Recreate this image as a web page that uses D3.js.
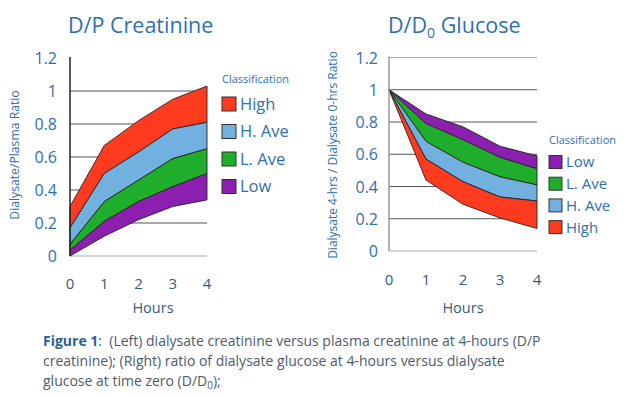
<!DOCTYPE html>
<html>
<head>
<meta charset="utf-8">
<script src="https://cdn.jsdelivr.net/npm/d3@7"></script>
<style>
  body { margin: 0; background: #fff; }
  svg { display: block; font-family: "Open Sans", sans-serif; }
</style>
</head>
<body>
<svg id="chart" width="627" height="398"></svg>
<script>
// hours on the x axis
var hours = [0, 1, 2, 3, 4];
var yTicks = [0, 0.2, 0.4, 0.6, 0.8, 1, 1.2];

// D/P creatinine, band edges top to bottom
var creatHighTop  = [0.30, 0.67, 0.82, 0.95, 1.03];
var creatHAveTop  = [0.17, 0.50, 0.63, 0.77, 0.81];
var creatLAveTop  = [0.07, 0.33, 0.46, 0.59, 0.65];
var creatLowTop   = [0.035, 0.21, 0.33, 0.42, 0.50];
var creatLowBot   = [0, 0.12, 0.22, 0.30, 0.34];

// D/D0 glucose, band edges top to bottom
var glucLowTop    = [1, 0.85, 0.77, 0.65, 0.59];
var glucLAveTop   = [1, 0.79, 0.69, 0.58, 0.51];
var glucHAveTop   = [1, 0.68, 0.55, 0.46, 0.41];
var glucHighTop   = [1, 0.57, 0.43, 0.335, 0.31];
var glucHighBot   = [1, 0.44, 0.29, 0.205, 0.14];

var colors = {
  "High": "#ff3b1f",
  "H. Ave": "#72b0e0",
  "L. Ave": "#1fae2b",
  "Low": "#8c1fb0"
};

var svg = d3.select("#chart");
var blue = "#2e6fb0";

function drawPanel(p) {
  var x = d3.scaleLinear().domain([0, 4]).range(p.xRange);
  var y = d3.scaleLinear().domain([0, 1.2]).range(p.yRange);
  var g = svg.append("g");

  // gridlines
  var gridVals = p.topGrid ? yTicks : yTicks.slice(0, -1);
  g.selectAll("line.grid").data(gridVals).enter().append("line")
    .attr("x1", x(0)).attr("x2", x(4))
    .attr("y1", function(d) { return y(d); })
    .attr("y2", function(d) { return y(d); })
    .attr("stroke", function(d) { return (d == 0 || d == 1.2) ? "#aaa" : "#555"; })
    .attr("stroke-width", 1.2);

  // bands
  var area = d3.area()
    .x(function(d) { return x(d.h); })
    .y0(function(d) { return y(d.lo); })
    .y1(function(d) { return y(d.hi); });

  p.bands.forEach(function(b) {
    var pts = hours.map(function(h, i) { return { h: h, lo: b.lo[i], hi: b.hi[i] }; });
    g.append("path").datum(pts)
      .attr("d", area)
      .attr("fill", colors[b.name])
      .attr("stroke", "#222")
      .attr("stroke-width", 0.9)
      .attr("stroke-linejoin", "round");
  });

  // y axis line
  g.append("line")
    .attr("x1", x(0)).attr("x2", x(0))
    .attr("y1", y(1.2) - 1).attr("y2", y(0))
    .attr("stroke", p.axisColor).attr("stroke-width", 1.5);

  // y tick labels
  g.selectAll("text.ytick").data(yTicks).enter().append("text")
    .attr("x", p.yLabelX)
    .attr("y", function(d) { return y(d) + 6; })
    .attr("text-anchor", "end")
    .attr("font-size", 16)
    .attr("fill", blue)
    .text(function(d) { return d; });

  // x tick labels
  g.selectAll("text.xtick").data(hours).enter().append("text")
    .attr("x", function(d) { return x(d); })
    .attr("y", p.xLabelY)
    .attr("text-anchor", "middle")
    .attr("font-size", 15)
    .attr("fill", "#345a80")
    .text(function(d) { return d; });

  g.append("text")
    .attr("x", p.hoursX).attr("y", 313)
    .attr("text-anchor", "middle")
    .attr("font-size", 14.5)
    .attr("fill", "#345a80")
    .text("Hours");

  // y title
  g.append("text")
    .attr("transform", "translate(" + p.yTitle.x + "," + p.yTitle.y + ") rotate(-90)")
    .attr("text-anchor", "middle")
    .attr("font-size", p.yTitle.size)
    .attr("fill", blue)
    .text(p.yTitle.text);

  // legend
  var lg = g.append("g");
  lg.append("text")
    .attr("x", p.legend.x).attr("y", p.legend.y)
    .attr("font-size", 11)
    .attr("fill", blue)
    .text("Classification");
  var items = lg.selectAll("g.item").data(p.legend.order).enter().append("g")
    .attr("transform", function(d, i) {
      return "translate(" + p.legend.x + "," + (p.legend.y0 + i * p.legend.step) + ")";
    });
  items.append("rect")
    .attr("x", 0).attr("y", -p.legend.box / 2)
    .attr("width", p.legend.box).attr("height", p.legend.box)
    .attr("fill", function(d) { return colors[d]; })
    .attr("stroke", "#333").attr("stroke-width", 1);
  items.append("text")
    .attr("x", p.legend.box + 4)
    .attr("y", p.legend.font * 0.36)
    .attr("font-size", p.legend.font)
    .attr("fill", blue)
    .text(function(d) { return d; });
}

drawPanel({
  xRange: [70, 207], yRange: [256, 58], topGrid: false, axisColor: "#222",
  yLabelX: 57, xLabelY: 289, hoursX: 153,
  yTitle: { x: 19, y: 155, size: 12.2, text: "Dialysate/Plasma Ratio" },
  bands: [
    { name: "High", hi: creatHighTop, lo: creatHAveTop },
    { name: "H. Ave", hi: creatHAveTop, lo: creatLAveTop },
    { name: "L. Ave", hi: creatLAveTop, lo: creatLowTop },
    { name: "Low", hi: creatLowTop, lo: creatLowBot }
  ],
  legend: { x: 222, y: 83, y0: 104, step: 27.5, box: 14, font: 16.5,
            order: ["High", "H. Ave", "L. Ave", "Low"] }
});

drawPanel({
  xRange: [389, 537], yRange: [251, 57.5], topGrid: true, axisColor: "#999",
  yLabelX: 378, xLabelY: 285, hoursX: 463,
  yTitle: { x: 337, y: 155, size: 12, text: "Dialysate 4-hrs / Dialysate 0-hrs Ratio" },
  bands: [
    { name: "Low", hi: glucLowTop, lo: glucLAveTop },
    { name: "L. Ave", hi: glucLAveTop, lo: glucHAveTop },
    { name: "H. Ave", hi: glucHAveTop, lo: glucHighTop },
    { name: "High", hi: glucHighTop, lo: glucHighBot }
  ],
  legend: { x: 549, y: 144, y0: 162, step: 21.7, box: 13, font: 15,
            order: ["Low", "L. Ave", "H. Ave", "High"] }
});

// titles
svg.append("text").attr("x", 68).attr("y", 33)
  .attr("font-size", 21.5).attr("fill", blue)
  .text("D/P Creatinine");
var t2 = svg.append("text").attr("x", 388).attr("y", 33)
  .attr("font-size", 21.5).attr("fill", blue);
t2.append("tspan").text("D/D");
t2.append("tspan").attr("font-size", 14).attr("dy", 5).text("0");
t2.append("tspan").attr("dy", -5).text(" Glucose");

// caption
var capLines = [
  ":\u00a0 (Left) dialysate creatinine versus plasma creatinine at 4-hours (D/P",
  "creatinine); (Right) ratio of dialysate glucose at 4-hours versus dialysate",
  "glucose at time zero (D/D"
];
var cap = svg.append("g").attr("font-size", 14).attr("fill", "#4d5a68");
var l1 = cap.append("text").attr("x", 43).attr("y", 346);
l1.append("tspan").attr("font-weight", "bold").attr("fill", "#2e5f8f").text("Figure 1");
l1.append("tspan").text(capLines[0]);
cap.append("text").attr("x", 43).attr("y", 366).text(capLines[1]);
var l3 = cap.append("text").attr("x", 43).attr("y", 386);
l3.append("tspan").text(capLines[2]);
l3.append("tspan").attr("font-size", 10).attr("dy", 3).text("0");
l3.append("tspan").attr("dy", -3).text(");");
</script>
</body>
</html>
